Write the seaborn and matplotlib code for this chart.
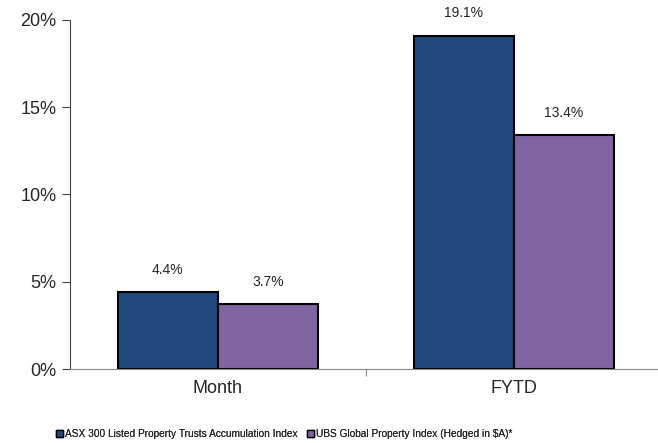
import matplotlib
matplotlib.use('Agg')
from matplotlib import pyplot as plt
from matplotlib.patches import Patch
import pandas as pd
import seaborn as sns

# chart values
periods = ['Month', 'FYTD']
series_names = ['ASX 300 Listed Property Trusts Accumulation Index',
                'UBS Global Property Index (Hedged in $A)*']
asx_values = [4.4, 19.1]
ubs_values = [3.7, 13.4]
y_ticks = [0, 5, 10, 15, 20]
colors = ['#1F497D', '#8064A2']

df = pd.DataFrame({
    'Period': periods * 2,
    'Series': [series_names[0]] * 2 + [series_names[1]] * 2,
    'Value': asx_values + ubs_values,
})

sns.set_style('white')
plt.rcParams['font.family'] = ['Liberation Sans', 'DejaVu Sans']

fig = plt.figure(figsize=(6.58, 4.43), dpi=100)
ax = fig.add_axes([0.106, 0.167, 0.9, 0.788])

sns.barplot(data=df, x='Period', y='Value', hue='Series', order=periods,
            hue_order=series_names, palette=colors, width=0.676,
            edgecolor='black', linewidth=1.5, saturation=1, legend=False, ax=ax)

# value labels
for container in ax.containers:
    ax.bar_label(container, labels=[f'{v:.1f}%' for v in container.datavalues],
                 padding=11, fontsize=10)

ax.set_xlim(-0.5, 1.5)
ax.set_ylim(0, 20)
ax.set_yticks(y_ticks)
ax.set_yticklabels([f'{t}%' for t in y_ticks], fontsize=13)
ax.tick_params(axis='y', direction='out', length=6, width=0.8, color='#444444', left=True)
ax.tick_params(axis='x', length=0, labelsize=13, pad=8)
ax.set_xticks([0.5], minor=True)
ax.tick_params(axis='x', which='minor', direction='out', length=5, width=0.8,
               color='#888888', bottom=True)
ax.set_xlabel('')
ax.set_ylabel('')

for side in ['top', 'right']:
    ax.spines[side].set_visible(False)
ax.spines['left'].set_color('#444444')
ax.spines['left'].set_linewidth(0.8)
ax.spines['bottom'].set_color('#888888')
ax.spines['bottom'].set_linewidth(0.8)

# legend entries placed along the bottom
for name, color, x0 in zip(series_names, colors, [56 / 658, 307 / 658]):
    leg = fig.legend([Patch(facecolor=color, edgecolor='black', linewidth=1)], [name],
                     loc='center left', bbox_to_anchor=(x0, 0.02), frameon=False,
                     fontsize=7.3, handlelength=0.7, handleheight=0.7,
                     handletextpad=0.15, borderpad=0, borderaxespad=0)
    fig.add_artist(leg)

fig.savefig('out.png', dpi=100)
